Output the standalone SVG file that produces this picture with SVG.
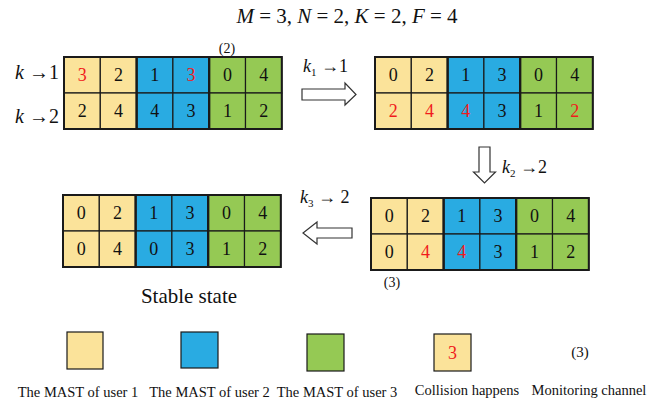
<svg xmlns="http://www.w3.org/2000/svg" width="667" height="403" viewBox="0 0 667 403" font-family="'Liberation Serif','Times New Roman',serif">
<style>
text{font-family:"Liberation Serif","Times New Roman",serif;fill:#111}
.num{font-size:18px;text-anchor:middle}
.red{fill:#f01c1c}
.y{fill:#fbe39a}
.b{fill:#29abe2}
.g{fill:#95c954}
.cell{stroke:#1a1a1a;stroke-width:1.2}
.grp{fill:none;stroke:#1a1a1a;stroke-width:2}
.arr{fill:#fff;stroke:#333;stroke-width:1.2}
.lbl{font-size:20px}
.sm{font-size:14px}
.leg{font-size:14.5px;text-anchor:middle}
</style>
<defs>
<g id="cells">
<rect class="cell y" x="0" y="0" width="36.3" height="36"/>
<rect class="cell y" x="36.3" y="0" width="36.3" height="36"/>
<rect class="cell b" x="72.6" y="0" width="36.3" height="36"/>
<rect class="cell b" x="108.9" y="0" width="36.3" height="36"/>
<rect class="cell g" x="145.2" y="0" width="36.3" height="36"/>
<rect class="cell g" x="181.5" y="0" width="36.3" height="36"/>
<rect class="cell y" x="0" y="36" width="36.3" height="36"/>
<rect class="cell y" x="36.3" y="36" width="36.3" height="36"/>
<rect class="cell b" x="72.6" y="36" width="36.3" height="36"/>
<rect class="cell b" x="108.9" y="36" width="36.3" height="36"/>
<rect class="cell g" x="145.2" y="36" width="36.3" height="36"/>
<rect class="cell g" x="181.5" y="36" width="36.3" height="36"/>
<rect class="grp" x="0" y="0" width="72.6" height="72"/>
<rect class="grp" x="72.6" y="0" width="72.6" height="72"/>
<rect class="grp" x="145.2" y="0" width="72.6" height="72"/>
</g>
</defs>

<g id="title">
<text x="347" y="23" style="font-size:21px" text-anchor="middle"><tspan font-style="italic">M</tspan> = 3, <tspan font-style="italic">N</tspan> = 2, <tspan font-style="italic">K</tspan> = 2, <tspan font-style="italic">F</tspan> = 4</text>
</g>

<g id="row-labels">
<text class="lbl" x="15" y="79"><tspan font-style="italic">k</tspan> →1</text>
<text class="lbl" x="15" y="123"><tspan font-style="italic">k</tspan> →2</text>
</g>

<g id="state1">
<use href="#cells" x="64" y="57"/>
<text class="num red" x="82.2" y="81">3</text><text class="num" x="118.5" y="81">2</text><text class="num" x="154.8" y="81">1</text><text class="num red" x="191.1" y="81">3</text><text class="num" x="227.4" y="81">0</text><text class="num" x="263.7" y="81">4</text>
<text class="num" x="82.2" y="117">2</text><text class="num" x="118.5" y="117">4</text><text class="num" x="154.8" y="117">4</text><text class="num" x="191.1" y="117">3</text><text class="num" x="227.4" y="117">1</text><text class="num" x="263.7" y="117">2</text>
<text class="sm" x="227" y="53" text-anchor="middle">(2)</text>
</g>

<g id="state2">
<use href="#cells" x="375" y="57"/>
<text class="num" x="393.2" y="81">0</text><text class="num" x="429.5" y="81">2</text><text class="num" x="465.8" y="81">1</text><text class="num" x="502.1" y="81">3</text><text class="num" x="538.4" y="81">0</text><text class="num" x="574.7" y="81">4</text>
<text class="num red" x="393.2" y="117">2</text><text class="num red" x="429.5" y="117">4</text><text class="num red" x="465.8" y="117">4</text><text class="num" x="502.1" y="117">3</text><text class="num" x="538.4" y="117">1</text><text class="num red" x="574.7" y="117">2</text>
</g>

<g id="state3">
<use href="#cells" x="371" y="198"/>
<text class="num" x="389.2" y="222">0</text><text class="num" x="425.5" y="222">2</text><text class="num" x="461.8" y="222">1</text><text class="num" x="498.1" y="222">3</text><text class="num" x="534.4" y="222">0</text><text class="num" x="570.7" y="222">4</text>
<text class="num" x="389.2" y="258">0</text><text class="num red" x="425.5" y="258">4</text><text class="num red" x="461.8" y="258">4</text><text class="num" x="498.1" y="258">3</text><text class="num" x="534.4" y="258">1</text><text class="num" x="570.7" y="258">2</text>
<text class="sm" x="392" y="287" text-anchor="middle">(3)</text>
</g>

<g id="state4">
<use href="#cells" x="63" y="195"/>
<text class="num" x="81.2" y="219">0</text><text class="num" x="117.5" y="219">2</text><text class="num" x="153.8" y="219">1</text><text class="num" x="190.1" y="219">3</text><text class="num" x="226.4" y="219">0</text><text class="num" x="262.7" y="219">4</text>
<text class="num" x="81.2" y="255">0</text><text class="num" x="117.5" y="255">4</text><text class="num" x="153.8" y="255">0</text><text class="num" x="190.1" y="255">3</text><text class="num" x="226.4" y="255">1</text><text class="num" x="262.7" y="255">2</text>
<text x="189" y="303" style="font-size:21px" text-anchor="middle">Stable state</text>
</g>

<g id="connectors">
<polygon class="arr" points="302,89 345,89 345,83 356,94.5 345,105 345,100 302,100"/>
<text x="303" y="72" style="font-size:18px"><tspan font-style="italic">k</tspan><tspan style="font-size:11px" dy="4">1</tspan><tspan dy="-4"> →1</tspan></text>
<polygon class="arr" points="479,147 490,147 490,172 495.5,172 484.5,183 473.5,172 479,172"/>
<text x="502" y="173" style="font-size:18px"><tspan font-style="italic">k</tspan><tspan style="font-size:11px" dy="4">2</tspan><tspan dy="-4"> →2</tspan></text>
<polygon class="arr" points="352,228 317,228 317,222 303,233 317,244 317,238 352,238"/>
<text x="300" y="203" style="font-size:18px"><tspan font-style="italic">k</tspan><tspan style="font-size:11px" dy="4">3</tspan><tspan dy="-4"> → 2</tspan></text>
</g>

<g id="legend">
<rect class="cell y" x="67" y="332" width="36" height="37"/>
<rect class="cell b" x="181" y="332" width="37" height="36"/>
<rect class="cell g" x="307" y="334" width="37" height="37"/>
<rect class="cell y" x="434" y="334" width="37" height="37"/>
<text class="num red" x="452.5" y="359">3</text>
<text x="580" y="357" text-anchor="middle" style="font-size:15px">(3)</text>
<text class="leg" x="78" y="397">The MAST of user 1</text>
<text class="leg" x="209.5" y="397">The MAST of user 2</text>
<text class="leg" x="337" y="397">The MAST of user 3</text>
<text class="leg" x="467" y="395">Collision happens</text>
<text class="leg" x="589" y="395">Monitoring channel</text>
</g>
</svg>
